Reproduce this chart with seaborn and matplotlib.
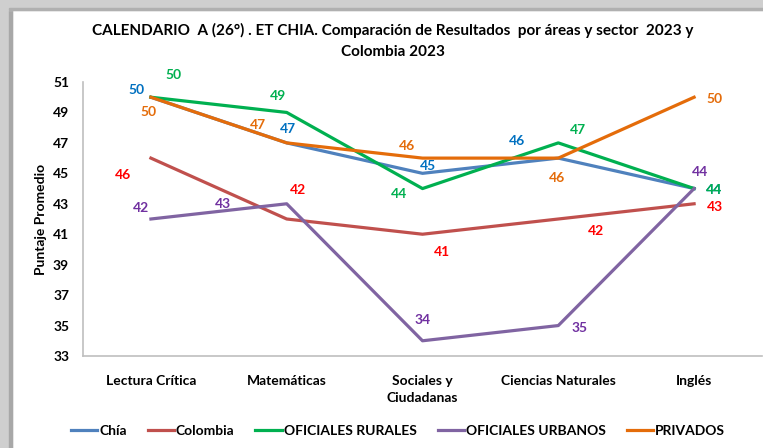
import matplotlib
matplotlib.use("Agg")
import matplotlib.pyplot as plt
import seaborn as sns
import pandas as pd
from matplotlib.patches import Rectangle

categories = ["Lectura Crítica", "Matemáticas", "Sociales y\nCiudadanas", "Ciencias Naturales", "Inglés"]
series_names = ["Chía", "Colombia", "OFICIALES RURALES", "OFICIALES URBANOS", "PRIVADOS"]
chia = [50, 47, 45, 46, 44]
colombia = [46, 42, 41, 42, 43]
rurales = [50, 49, 44, 47, 44]
urbanos = [42, 43, 34, 35, 44]
privados = [50, 47, 46, 46, 50]
yticks = list(range(33, 52, 2))

line_colors = ["#4F81BD", "#C0504D", "#00B050", "#8064A2", "#E46C0A"]
label_colors = ["#0070C0", "#FF0000", "#00B050", "#7030A0", "#E46C0A"]
# label offsets in points (dx, dy) per series / category
offsets = [
    [(-10, 5), (1, 10), (4, 5), (-30, 12), (14, -1)],
    [(-20, -12), (8, 21), (14, -13), (27, -9), (15, -2)],
    [(16, 16), (-6, 12), (-17, -4), (14, 9), (14, -1)],
    [(-7, 8), (-46, 0), (0, 15), (15, -2), (4, 12)],
    [(-2, -11), (-21, 13), (-11, 9), (-1, -14), (15, -1)],
]

values = [chia, colombia, rurales, urbanos, privados]
rows = []
for name, vals in zip(series_names, values):
    for i, v in enumerate(vals):
        rows.append({"pos": i, "Serie": name, "Puntaje": v})
df = pd.DataFrame(rows)

plt.rcParams['font.family'] = ['Lato', 'DejaVu Sans']
fig = plt.figure(figsize=(7.63, 4.48), dpi=100)
fig.patch.set_facecolor("white")
# frame shadow
fig.patches.append(Rectangle((0, 0), 12/763, 1, transform=fig.transFigure, color="#cfcfcf", zorder=0))
fig.patches.append(Rectangle((9/763, 0), 3/763, 1, transform=fig.transFigure, color="#a8a8a8", zorder=0))
fig.patches.append(Rectangle((0, 1-10/448), 1, 10/448, transform=fig.transFigure, color="#cfcfcf", zorder=0))
fig.patches.append(Rectangle((9/763, 1-10/448), 1, 2/448, transform=fig.transFigure, color="#b0b0b0", zorder=0))

ax = fig.add_axes([83/763, 1-356/448, 679/763, 274/448])
sns.lineplot(data=df, x="pos", y="Puntaje", hue="Serie", hue_order=series_names,
             palette=line_colors, linewidth=2.3, sort=False, ax=ax, legend=True)

for s, vals in enumerate(values):
    for i, v in enumerate(vals):
        dx, dy = offsets[s][i]
        ax.annotate(str(v), (i, v), xytext=(dx, dy), textcoords="offset points",
                    ha="center", va="center", color=label_colors[s],
                    fontsize=10, fontweight="bold")

ax.set_xlim(-0.5, 4.5)
ax.set_ylim(33, 51)
ax.set_yticks(yticks)
ax.set_yticklabels([str(t) for t in yticks], fontsize=10, fontweight="bold")
ax.set_xticks(range(len(categories)))
ax.set_xticklabels(categories, fontsize=10, fontweight="bold", linespacing=1.5)
ax.tick_params(axis="both", length=0, pad=10)
ax.tick_params(axis="x", pad=14)
ax.set_xlabel("")
ax.set_ylabel("Puntaje Promedio", fontsize=10, fontweight="bold", labelpad=4)
for sp in ["top", "right"]:
    ax.spines[sp].set_visible(False)
for sp in ["left", "bottom"]:
    ax.spines[sp].set_color("#BFBFBF")
    ax.spines[sp].set_linewidth(1.2)

handles, labels = ax.get_legend_handles_labels()
ax.get_legend().remove()
fig.legend(handles, labels, loc="center", bbox_to_anchor=(398/763, 1-431/448), ncol=5,
           frameon=False, prop={"weight": "bold", "size": 10}, handlelength=1.9,
           handletextpad=0.15, columnspacing=1.5)

fig.text(393/763, 1-30/448, "CALENDARIO  A (26°) . ET CHIA. Comparación de Resultados  por áreas y sector  2023 y",
         ha="center", va="center", fontsize=11, fontweight="bold")
fig.text(393/763, 1-52/448, "Colombia 2023", ha="center", va="center", fontsize=11, fontweight="bold")

fig.savefig("out.png", dpi=100)
